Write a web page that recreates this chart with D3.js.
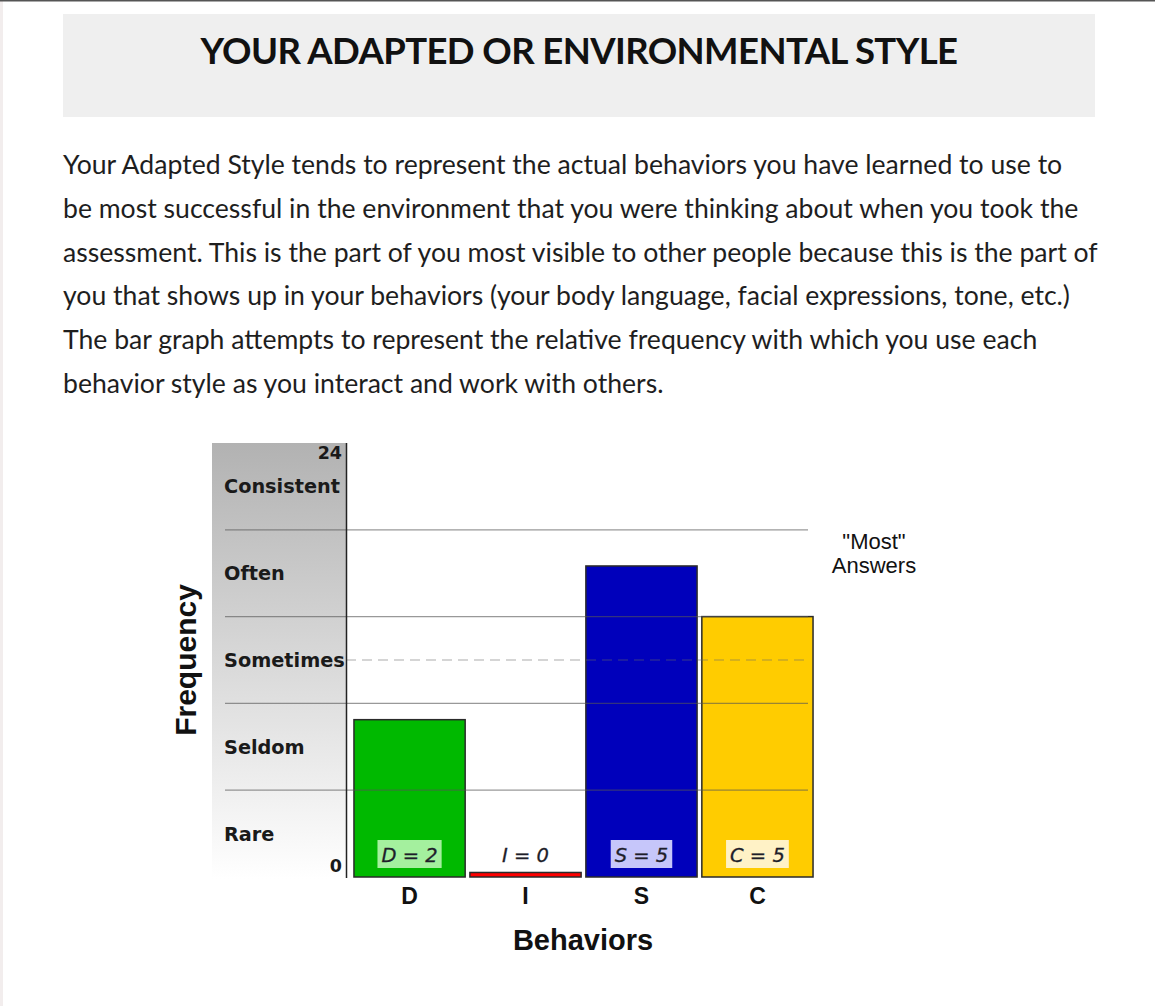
<!DOCTYPE html>
<html><head><meta charset="utf-8">
<script src="https://cdn.jsdelivr.net/npm/d3@7"></script>
<style>body{margin:0;background:#fff;overflow:hidden;} svg{display:block;}</style>
</head><body><svg id="c" width="1155" height="1006"></svg>
<script>
const titleText = "YOUR ADAPTED OR ENVIRONMENTAL STYLE";
const paragraphLines = [
  "Your Adapted Style tends to represent the actual behaviors you have learned to use to",
  "be most successful in the environment that you were thinking about when you took the",
  "assessment. This is the part of you most visible to other people because this is the part of",
  "you that shows up in your behaviors (your body language, facial expressions, tone, etc.)",
  "The bar graph attempts to represent the relative frequency with which you use each",
  "behavior style as you interact and work with others."
];
const categories = ["D", "I", "S", "C"];
const scores = [2, 0, 5, 5];
const barValues = [8.7, 0, 17.2, 14.4];
const barColors = ["#00b900", "#ff0000", "#0000bb", "#ffcc00"];
const labelBgColors = ["#a4f09e", "none", "#c6c6fa", "#fff2c6"];
const levelLabels = ["Rare", "Seldom", "Sometimes", "Often", "Consistent"];
const levelBreaks = [0, 4.8, 9.6, 14.4, 19.2, 24];
const yTickLabels = [0, 24];
const midline = 12;
const zeroBarMin = 0.25;
const xTitle = "Behaviors";
const yTitle = "Frequency";
const noteLines = ['"Most"', "Answers"];

const svg = d3.select("#c");

// page frame
svg.append("rect").attr("x", 0).attr("y", 0).attr("width", 1155).attr("height", 1006).attr("fill", "#fff");
svg.append("rect").attr("x", 0).attr("y", 0).attr("width", 3).attr("height", 1006).attr("fill", "#f2eded");
svg.append("rect").attr("x", 0).attr("y", 0).attr("width", 1155).attr("height", 1.5).attr("fill", "#555");

// title box
svg.append("rect").attr("x", 63).attr("y", 14).attr("width", 1032).attr("height", 103).attr("fill", "#efefef");
svg.append("text").attr("x", 579).attr("y", 64).attr("text-anchor", "middle")
  .attr("font-family", "Lato").attr("font-weight", 700).attr("font-size", 36.5)
  .attr("letter-spacing", -0.6).attr("fill", "#111").text(titleText);

// paragraph
svg.append("g").selectAll("text").data(paragraphLines).join("text")
  .attr("x", 63).attr("y", (d, i) => 174 + i * 43.8)
  .attr("font-family", "Lato").attr("font-size", 26.6).attr("fill", "#1e1e1e")
  .text(d => d);

// chart
const y = d3.scaleLinear().domain([0, 24]).range([877, 443]);
const x = d3.scaleBand().domain(categories).range([347, 820]).paddingInner(0.041).paddingOuter(0.06);

const defs = svg.append("defs");
const grad = defs.append("linearGradient").attr("id", "panelGrad").attr("x1", 0).attr("y1", 0).attr("x2", 0).attr("y2", 1);
grad.append("stop").attr("offset", "0%").attr("stop-color", "#b2b2b2");
grad.append("stop").attr("offset", "100%").attr("stop-color", "#ffffff");

svg.append("rect").attr("x", 212).attr("y", y(24)).attr("width", 346 - 212).attr("height", y(0) - y(24) + 2)
  .attr("fill", "url(#panelGrad)");

// bars
const bars = categories.map((c, i) => ({ c, v: barValues[i], s: scores[i], col: barColors[i], bg: labelBgColors[i] }));
svg.append("g").selectAll("rect").data(bars).join("rect")
  .attr("x", d => x(d.c)).attr("width", x.bandwidth())
  .attr("y", d => y(Math.max(d.v, zeroBarMin)))
  .attr("height", d => y(0) - y(Math.max(d.v, zeroBarMin)))
  .attr("fill", d => d.col).attr("stroke", "#2a2a2a").attr("stroke-width", 1.5);

// gridlines (drawn over bars, semi-transparent)
svg.append("g").selectAll("line").data(levelBreaks.slice(1, -1)).join("line")
  .attr("x1", 225).attr("x2", 808)
  .attr("y1", d => y(d)).attr("y2", d => y(d))
  .attr("stroke", "#555").attr("stroke-opacity", 0.6).attr("stroke-width", 1.2);
svg.append("line").attr("x1", 346).attr("x2", 808).attr("y1", y(midline)).attr("y2", y(midline))
  .attr("stroke", "#666").attr("stroke-opacity", 0.55).attr("stroke-width", 1.2).attr("stroke-dasharray", "10,6");

// level labels
svg.append("g").selectAll("text").data(levelLabels).join("text")
  .attr("x", 224).attr("y", (d, i) => (y(levelBreaks[i]) + y(levelBreaks[i + 1])) / 2)
  .attr("dy", "0.36em")
  .attr("font-family", "DejaVu Sans").attr("font-weight", 700).attr("font-size", 19.3)
  .attr("fill", "#1a1a1a").text(d => d);

// y tick labels
svg.append("g").selectAll("text").data(yTickLabels).join("text")
  .attr("x", 342).attr("y", d => d === 0 ? y(d) - 11 : y(d) + 10)
  .attr("dy", "0.36em").attr("text-anchor", "end")
  .attr("font-family", "DejaVu Sans").attr("font-weight", 700).attr("font-size", 17.5)
  .attr("fill", "#1a1a1a").text(d => d);

// axis line
svg.append("line").attr("x1", 346.5).attr("x2", 346.5).attr("y1", y(24)).attr("y2", y(0) + 1)
  .attr("stroke", "#222").attr("stroke-width", 1.5);

// score labels
const lg = svg.append("g");
bars.forEach(d => {
  const cx = x(d.c) + x.bandwidth() / 2;
  const g = lg.append("g");
  const bgRect = g.append("rect");
  const t = g.append("text").attr("x", cx).attr("y", 862).attr("text-anchor", "middle")
    .attr("font-family", "DejaVu Sans").attr("font-style", "italic").attr("font-size", 19.5)
    .attr("fill", "#1e1e2a").attr("stroke", "#1e1e2a").attr("stroke-width", 0.3)
    .text(`${d.c} = ${d.s}`);
  const bb = t.node().getBBox();
  bgRect.attr("x", bb.x - 4).attr("y", 840).attr("width", bb.width + 8).attr("height", 28)
    .attr("fill", d.bg);
});

// category labels
svg.append("g").selectAll("text").data(categories).join("text")
  .attr("x", d => x(d) + x.bandwidth() / 2).attr("y", 904).attr("text-anchor", "middle")
  .attr("font-family", "Liberation Sans").attr("font-weight", 700).attr("font-size", 23)
  .attr("fill", "#111").text(d => d);

// axis titles
svg.append("text").attr("x", 583).attr("y", 950).attr("text-anchor", "middle")
  .attr("font-family", "Liberation Sans").attr("font-weight", 700).attr("font-size", 29)
  .attr("fill", "#111").text(xTitle);
svg.append("text").attr("transform", "translate(196,660) rotate(-90)").attr("text-anchor", "middle")
  .attr("font-family", "Liberation Sans").attr("font-weight", 700).attr("font-size", 30)
  .attr("fill", "#111").text(yTitle);

// note
svg.append("g").selectAll("text").data(noteLines).join("text")
  .attr("x", 874).attr("y", (d, i) => 549 + i * 24).attr("text-anchor", "middle")
  .attr("font-family", "Liberation Sans").attr("font-size", 22)
  .attr("fill", "#111").text(d => d);
</script>
</body></html>
